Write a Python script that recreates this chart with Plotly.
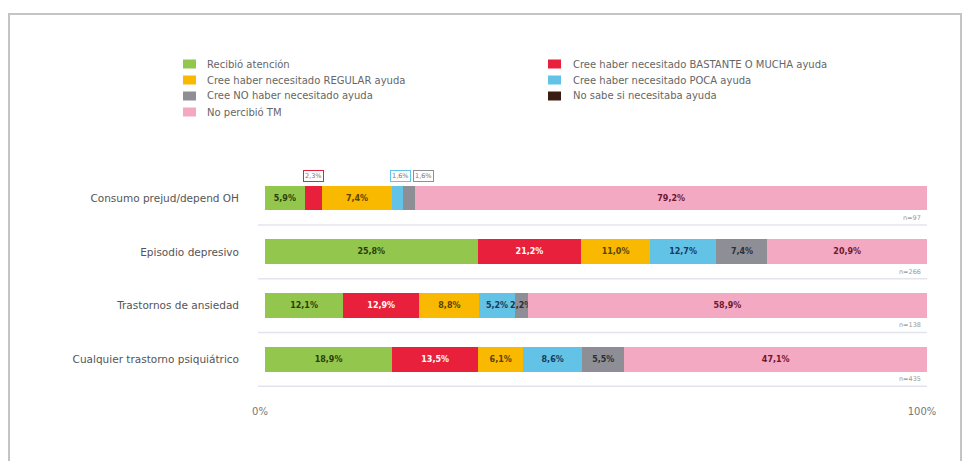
import plotly.graph_objects as go

# ---------------- data ----------------
categories = ["Consumo prejud/depend OH", "Episodio depresivo",
              "Trastornos de ansiedad", "Cualquier trastorno psiquiátrico"]

series_names = ["Recibió atención",
                "Cree haber necesitado BASTANTE O MUCHA ayuda",
                "Cree haber necesitado REGULAR ayuda",
                "Cree haber necesitado POCA ayuda",
                "Cree NO haber necesitado ayuda",
                "No sabe si necesitaba ayuda",
                "No percibió TM"]

recibio   = [6.0, 32.1, 11.8, 19.2]
bastante  = [2.6, 15.7, 11.5, 13.0]
regular   = [10.6, 10.3, 9.1, 6.8]
poca      = [1.7, 10.1, 5.3, 8.9]
no_neces  = [1.8, 7.7, 2.0, 6.4]
no_sabe   = [0.0, 0.0, 0.0, 0.0]
no_percib = [77.3, 24.1, 60.3, 45.7]

lbl_recibio   = ["5,9%", "25,8%", "12,1%", "18,9%"]
lbl_bastante  = ["", "21,2%", "12,9%", "13,5%"]
lbl_regular   = ["7,4%", "11,0%", "8,8%", "6,1%"]
lbl_poca      = ["", "12,7%", "5,2%", "8,6%"]
lbl_no_neces  = ["", "7,4%", "2,2%", "5,5%"]
lbl_no_sabe   = ["", "", "", ""]
lbl_no_percib = ["79,2%", "20,9%", "58,9%", "47,1%"]

# small boxed labels above the first bar: segment index and text
small_label_segments = [1, 3, 4]
small_label_texts = ["2,3%", "1,6%", "1,6%"]

n_labels = ["n=97", "n=266", "n=138", "n=435"]

tick_vals = [0, 100]
tick_text = ["0%", "100%"]

# ---------------- styling ----------------
FONT = "DejaVu Sans"
colors = ["#93c64c", "#e8203c", "#f8b900", "#62c3e6", "#8e8e96", "#3a1c12", "#f4a9c2"]
text_colors = ["#2b3d0c", "#ffffff", "#5a4300", "#173a5c", "#2e2e33", "#ffffff", "#6e1630"]
small_label_anchor = ["center", "center", "left"]
small_label_shift = [0, 3, 4]

values = [recibio, bastante, regular, poca, no_neces, no_sabe, no_percib]
labels = [lbl_recibio, lbl_bastante, lbl_regular, lbl_poca, lbl_no_neces, lbl_no_sabe, lbl_no_percib]

L, R, T, B = 265, 44, 170, 74
W, H = 971, 461
pw, ph = W - L - R, H - T - B

def px_x(p):
    return (p - L) / pw

def px_y(p):
    return 1 + (T - p) / ph

fig = go.Figure()
for name, vals, txt, col, tcol in zip(series_names, values, labels, colors, text_colors):
    fig.add_trace(go.Bar(
        y=categories, x=vals, orientation="h", name=name,
        marker=dict(color=col, line=dict(width=0)),
        text=txt, textposition="inside", insidetextanchor="middle",
        textangle=0,
        textfont=dict(color=tcol, size=8, family=FONT, weight="bold"),
        showlegend=False, hoverinfo="skip",
    ))

# legend drawn as two columns (row-major order like the reference)
leg_cols_marker = [183, 548]
leg_cols_text = [205, 571]
leg_row_y = [64, 80, 96, 112]
for i, (name, col) in enumerate(zip(series_names, colors)):
    c, r = i % 2, i // 2
    xm, y = leg_cols_marker[c], leg_row_y[r]
    fig.add_shape(type="rect", xref="paper", yref="paper",
                  x0=px_x(xm), x1=px_x(xm + 13), y0=px_y(y + 4.5), y1=px_y(y - 4.5),
                  fillcolor=col, line=dict(width=0))
    fig.add_annotation(x=px_x(leg_cols_text[c]), y=px_y(y), xref="paper", yref="paper",
                       text=name, showarrow=False, xanchor="left", yanchor="middle",
                       font=dict(size=10, color="#666", family=FONT))

# boxed labels above first bar
first_vals = [v[0] for v in values]
for idx, t, anc, sh in zip(small_label_segments, small_label_texts, small_label_anchor, small_label_shift):
    center = sum(first_vals[:idx]) + first_vals[idx] / 2
    fig.add_annotation(x=center, y=-0.41, xref="x", yref="y", text=t, showarrow=False,
                       xanchor=anc, xshift=sh,
                       font=dict(size=6.5, color="#777", family=FONT), bordercolor=colors[idx],
                       borderwidth=1, borderpad=1, bgcolor="white")

# n labels
for i, n in enumerate(n_labels):
    fig.add_annotation(x=100, y=i + 0.37, xref="x", yref="y", text=n, showarrow=False,
                       xanchor="right", xshift=-4, font=dict(size=6.5, color="#999", family=FONT))

# separators between rows
for i in range(len(categories)):
    fig.add_shape(type="line", xref="paper", yref="y", x0=px_x(258), x1=1,
                  y0=i + 0.5, y1=i + 0.5, line=dict(color="#e4e4ee", width=1.5), layer="below")

# outer frame
fig.add_shape(type="rect", xref="paper", yref="paper",
              x0=px_x(9), x1=px_x(961), y0=px_y(480), y1=px_y(14),
              line=dict(color="#c4c4c4", width=2), fillcolor="rgba(0,0,0,0)")

fig.update_layout(
    width=W, height=H,
    margin=dict(l=L, r=R, t=T, b=B, pad=0),
    barmode="stack", bargap=0.54,
    plot_bgcolor="white", paper_bgcolor="white",
    font=dict(family=FONT, color="#666"),
    uniformtext=dict(minsize=8, mode="show"),
    showlegend=False,
    xaxis=dict(range=[0, 100], tickvals=tick_vals, ticktext=tick_text,
               showgrid=True, gridcolor="#dcdcdc", gridwidth=1, zeroline=False,
               showline=False, ticks="", tickfont=dict(size=10, color="#777", family=FONT),
               ticklabelstandoff=17, ticklabelshift=-5, fixedrange=True),
    yaxis=dict(autorange="reversed", showgrid=False, zeroline=False, showline=False,
               ticks="", tickfont=dict(size=10.5, color="#555", family=FONT),
               ticklabelstandoff=25, fixedrange=True),
)

fig.write_html("out.html")
